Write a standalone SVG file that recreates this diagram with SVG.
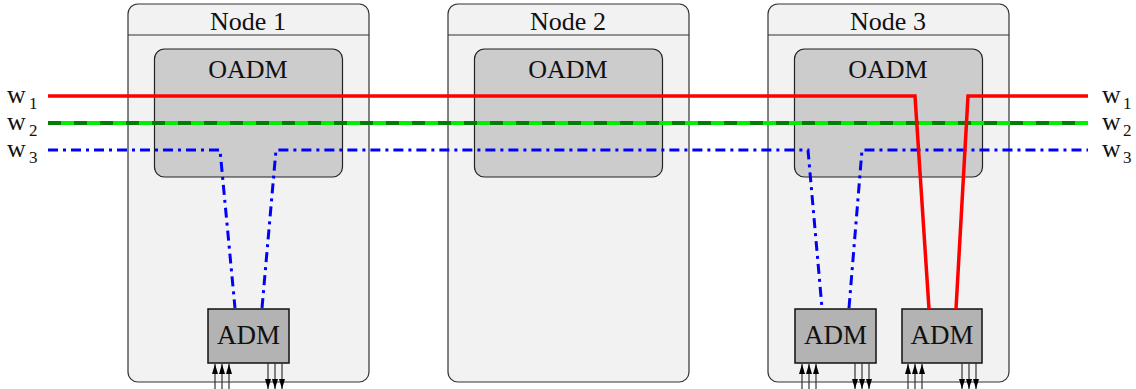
<svg xmlns="http://www.w3.org/2000/svg" width="1136" height="389" viewBox="0 0 1136 389">
<defs>
<style>
.node{fill:#f2f2f2;stroke:#333;stroke-width:1.2}
.oadm{fill:#cccccc;stroke:#222;stroke-width:1.2}
.adm{fill:#b3b3b3;stroke:#111;stroke-width:1.5}
.t{font-family:"Liberation Serif","Times New Roman",serif;font-size:26px;fill:#111;text-anchor:middle}
.a{font-family:"Liberation Serif","Times New Roman",serif;font-size:27px;fill:#111;text-anchor:middle}
.w{font-family:"Liberation Serif","Times New Roman",serif;font-size:26px;fill:#111}
.s{font-family:"Liberation Serif","Times New Roman",serif;font-size:17px;fill:#111}
.io line{stroke:#333;stroke-width:1.2;fill:none}
</style>
<marker id="ah" viewBox="0 0 10 6" refX="10" refY="3" markerWidth="10" markerHeight="6" orient="auto" markerUnits="userSpaceOnUse">
<path d="M0,0 L10,3 L0,6 Z" fill="#000"/>
</marker>
</defs>
<g id="node1">
<rect class="node" x="128" y="4" width="241" height="378" rx="10"/>
<line x1="128" y1="35" x2="369" y2="35" stroke="#333" stroke-width="1.2"/>
<text class="t" x="248" y="30">Node 1</text>
<rect class="oadm" x="154.5" y="49" width="188" height="128" rx="10"/>
<text class="t" x="248" y="78">OADM</text>
<rect class="adm" x="208" y="309" width="81" height="54"/>
<text class="a" x="248.5" y="344">ADM</text>
</g>
<g id="node2">
<rect class="node" x="448" y="4" width="241" height="378" rx="10"/>
<line x1="448" y1="35" x2="689" y2="35" stroke="#333" stroke-width="1.2"/>
<text class="t" x="568" y="30">Node 2</text>
<rect class="oadm" x="474.5" y="49" width="188" height="128" rx="10"/>
<text class="t" x="568" y="78">OADM</text>
</g>
<g id="node3">
<rect class="node" x="768" y="4" width="241" height="378" rx="10"/>
<line x1="768" y1="35" x2="1009" y2="35" stroke="#333" stroke-width="1.2"/>
<text class="t" x="888" y="30">Node 3</text>
<rect class="oadm" x="794.5" y="49" width="188" height="128" rx="10"/>
<text class="t" x="888" y="78">OADM</text>
<rect class="adm" x="795" y="309" width="81" height="54"/>
<text class="a" x="835.5" y="344">ADM</text>
<rect class="adm" x="902" y="309" width="80" height="54"/>
<text class="a" x="942" y="344">ADM</text>
</g>
<g id="connectors">
<path d="M48,123 H1088" stroke="#00ee00" stroke-width="4" fill="none"/>
<path d="M48,123 H1088" stroke="#008000" stroke-width="4" fill="none" stroke-dasharray="13 13"/>
<path d="M48,150 H220 L235,308 M262,308 L276,150 H808 L822,308 M849,308 L862,150 H1088" stroke="#0000ff" stroke-width="3" fill="none" stroke-dasharray="10 5 3 5"/>
<path d="M48,96 H915 L929,309 M956,309 L968,96 H1088" stroke="#ff0000" stroke-width="3.5" fill="none"/>
<g class="io">
<line x1="215" y1="389" x2="215" y2="364" marker-end="url(#ah)"/>
<line x1="222" y1="389" x2="222" y2="364" marker-end="url(#ah)"/>
<line x1="229" y1="389" x2="229" y2="364" marker-end="url(#ah)"/>
<line x1="268" y1="363" x2="268" y2="389" marker-end="url(#ah)"/>
<line x1="275" y1="363" x2="275" y2="389" marker-end="url(#ah)"/>
<line x1="282" y1="363" x2="282" y2="389" marker-end="url(#ah)"/>
<line x1="802" y1="389" x2="802" y2="364" marker-end="url(#ah)"/>
<line x1="809" y1="389" x2="809" y2="364" marker-end="url(#ah)"/>
<line x1="816" y1="389" x2="816" y2="364" marker-end="url(#ah)"/>
<line x1="855" y1="363" x2="855" y2="389" marker-end="url(#ah)"/>
<line x1="862" y1="363" x2="862" y2="389" marker-end="url(#ah)"/>
<line x1="869" y1="363" x2="869" y2="389" marker-end="url(#ah)"/>
<line x1="908" y1="389" x2="908" y2="364" marker-end="url(#ah)"/>
<line x1="915" y1="389" x2="915" y2="364" marker-end="url(#ah)"/>
<line x1="922" y1="389" x2="922" y2="364" marker-end="url(#ah)"/>
<line x1="962" y1="363" x2="962" y2="389" marker-end="url(#ah)"/>
<line x1="969" y1="363" x2="969" y2="389" marker-end="url(#ah)"/>
<line x1="976" y1="363" x2="976" y2="389" marker-end="url(#ah)"/>
</g>
</g>
<g id="labels">
<text class="w" x="7" y="103">w</text><text class="s" x="29" y="109">1</text>
<text class="w" x="7" y="130">w</text><text class="s" x="29" y="136">2</text>
<text class="w" x="7" y="157">w</text><text class="s" x="29" y="163">3</text>
<text class="w" x="1102" y="103">w</text><text class="s" x="1123" y="109">1</text>
<text class="w" x="1102" y="130">w</text><text class="s" x="1123" y="136">2</text>
<text class="w" x="1102" y="157">w</text><text class="s" x="1123" y="163">3</text>
</g>
</svg>
